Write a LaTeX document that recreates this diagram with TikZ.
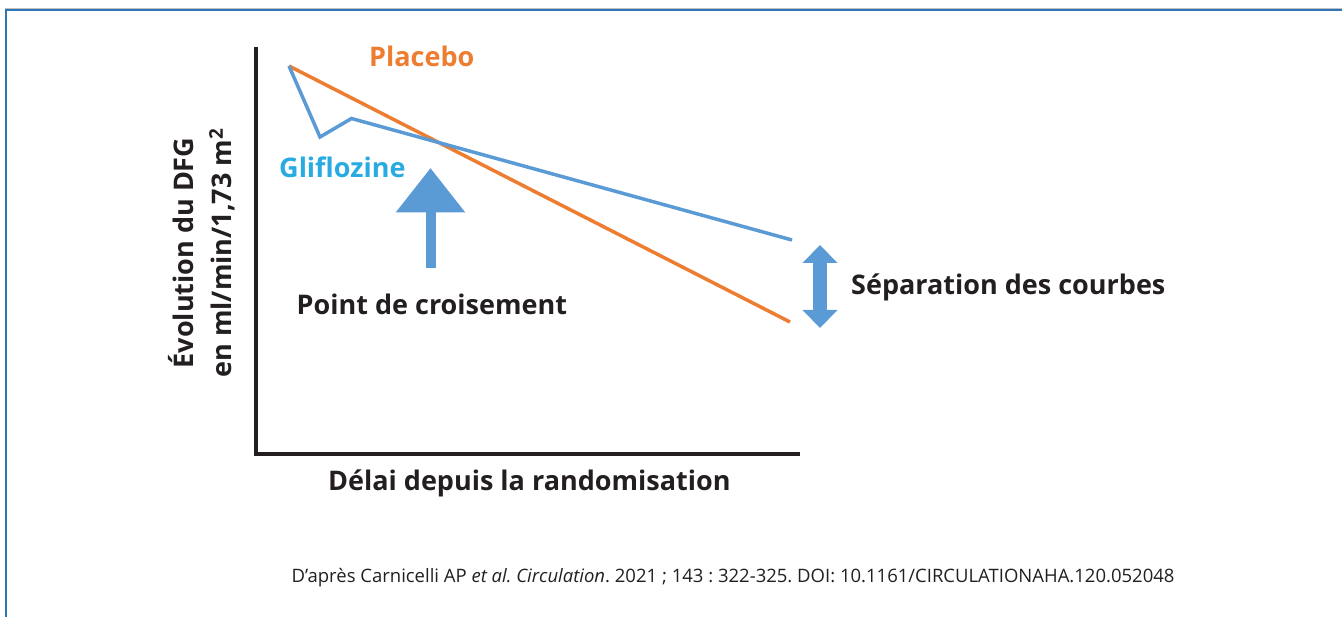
\documentclass[tikz,border=0pt]{standalone}
\usepackage{fontspec}
\setmainfont{Open Sans}
\usetikzlibrary{arrows.meta}
\definecolor{placeboorange}{RGB}{237,125,49}
\definecolor{sglt2blue}{RGB}{91,155,213}
\definecolor{sglt2cyan}{RGB}{41,171,226}
\definecolor{framecol}{RGB}{46,117,182}
\definecolor{inkblack}{RGB}{35,31,32}
\frenchspacing
\tikzset{x=1pt,y=-1pt,
         lbl/.style={anchor=base west,inner sep=0pt,font=\fontsize{27}{36}\selectfont\bfseries,text=inkblack},
         axisline/.style={draw=inkblack,line width=4pt},
         curve/.style={line width=3.5pt,line join=miter},
         blockarrow/.style={draw=sglt2blue,line width=10pt,-{Triangle[length=44.5pt,width=67pt]}},
         twinarrow/.style={draw=sglt2blue,line width=14pt,
            {Triangle[length=18pt,width=34pt]}-{Triangle[length=18pt,width=34pt]}}}

\begin{document}
\begin{tikzpicture}
  \useasboundingbox (0,0) rectangle (1342,617);
  \draw[black!25,line width=1pt] (5,9) -- (1342,9);
  \draw[framecol,line width=2pt] (5.5,617) -- (5.5,10.5) -- (1342,10.5);

  \coordinate (origin) at (256,454);
  \coordinate (ytop) at (256,47);
  \coordinate (xend) at (800,454);
  \draw[axisline] (ytop) -- (origin) -- (xend);

  \coordinate (start) at (289,66);
  \draw[curve,placeboorange] (start) -- (790,322);
  \draw[curve,sglt2blue] (start) -- (320,137) -- (351.5,118.5) -- (792,240);

  \node[lbl,text=placeboorange] (placebo) at (369,66.5) {Placebo};
  \node[lbl,text=sglt2cyan] (glifl) at (279,178) {Gliflozine};

  \coordinate (crossfoot) at (430.5,268);
  \coordinate (crosstip) at (430.5,168);
  \draw[blockarrow] (crossfoot) -- (crosstip);
  \node[lbl] (crossing) at (296.5,315) {Point de croisement};

  \coordinate (septop) at (820,245);
  \coordinate (sepbot) at (820,328);
  \draw[twinarrow] (septop) -- (sepbot);
  \node[lbl] (separation) at (851,295) {Séparation des courbes};

  \node[lbl] (xlabel) at (328,490) {Délai depuis la randomisation};
  \node[rotate=90,align=center,inner sep=0pt,font=\fontsize{27}{38}\selectfont\bfseries,text=inkblack]
    (ylabel) at (202,253) {Évolution du DFG\\en ml/min/1,73 m\textsuperscript{2}};

  \node[anchor=base west,inner sep=0pt,font=\fontsize{18.5}{22}\selectfont,text=inkblack] (source) at (291.5,582.3)
    {D'après Carnicelli AP \textit{et al.\ Circulation}. 2021 ; 143 : 322-325. DOI: 10.1161/CIRCULATIONAHA.120.052048};
\end{tikzpicture}
\end{document}
